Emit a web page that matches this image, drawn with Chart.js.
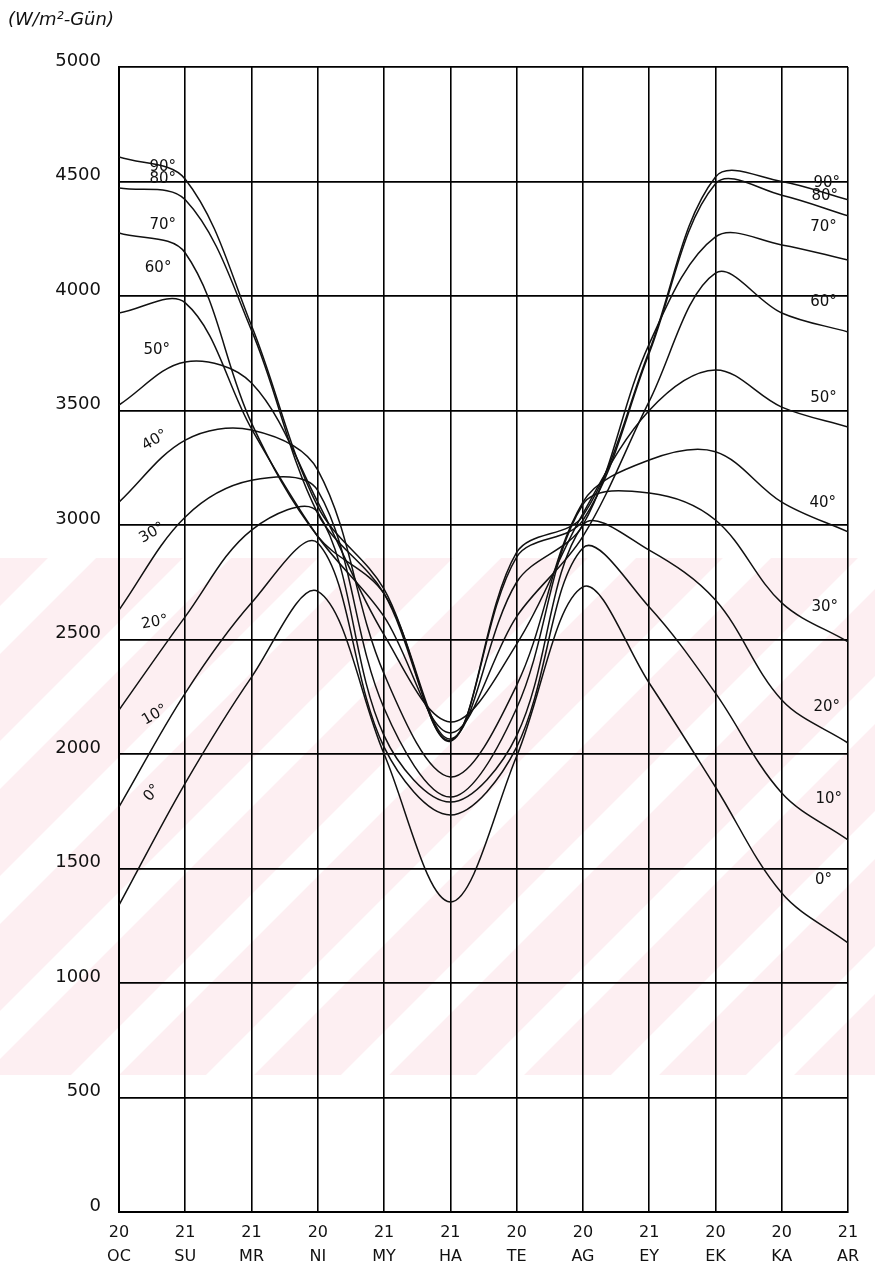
<!DOCTYPE html>
<html>
<head>
<meta charset="utf-8">
<script src="https://cdn.jsdelivr.net/npm/chart.js@4"></script>
<style>
  html, body { margin: 0; padding: 0; background: #fff; }
  #wrap { width: 875px; height: 1273px; position: relative; }
</style>
</head>
<body>
<div id="wrap"><canvas id="chart" width="875" height="1273"></canvas></div>
<script>
// month ticks along the bottom (day / month code)
const days = ['20', '21', '21', '20', '21', '21', '20', '20', '21', '20', '20', '21'];
const monthNames = ['OC', 'SU', 'MR', 'NI', 'MY', 'HA', 'TE', 'AG', 'EY', 'EK', 'KA', 'AR'];

// daily totals (W/m2-Gün), one value per month tick
const tilt0  = [1340, 1873, 2336, 2710, 2000, 1354, 1990, 2730, 2310, 1856, 1393, 1175];
const tilt10 = [1769, 2266, 2660, 2921, 2030, 1734, 2030, 2900, 2642, 2266, 1830, 1625];
const tilt20 = [2192, 2600, 2978, 3055, 2080, 1790, 2080, 3000, 2890, 2672, 2236, 2048];
const tilt30 = [2629, 3035, 3195, 3150, 2200, 1812, 2200, 3090, 3140, 3022, 2660, 2490];
const tilt40 = [3100, 3371, 3415, 3240, 2350, 1900, 2300, 3100, 3284, 3320, 3100, 2970];
const tilt50 = [3524, 3712, 3620, 3100, 2520, 2140, 2480, 3050, 3500, 3677, 3515, 3428];
const tilt60 = [3926, 3970, 3420, 2950, 2600, 2092, 2600, 2950, 3540, 4100, 3926, 3843];
const tilt70 = [4275, 4188, 3445, 2950, 2700, 2066, 2750, 3000, 3790, 4258, 4223, 4157];
const tilt80 = [4472, 4420, 3850, 3050, 2700, 2060, 2860, 3020, 3750, 4490, 4440, 4350];
const tilt90 = [4607, 4510, 3870, 3080, 2720, 2056, 2880, 3040, 3760, 4520, 4500, 4420];

const series = [
    { name: '0°', values: tilt0 },
    { name: '10°', values: tilt10 },
    { name: '20°', values: tilt20 },
    { name: '30°', values: tilt30 },
    { name: '40°', values: tilt40 },
    { name: '50°', values: tilt50 },
    { name: '60°', values: tilt60 },
    { name: '70°', values: tilt70 },
    { name: '80°', values: tilt80 },
    { name: '90°', values: tilt90 }
];

// curve labels written on the plot: month position, value, rotation (deg)
const curveLabels = [
    ['90°', 0.66, 4565, 0], ['80°', 0.66, 4510, 0], ['70°', 0.66, 4310, 0],
    ['60°', 0.59, 4120, 0], ['50°', 0.57, 3765, 0], ['40°', 0.54, 3370, -30],
    ['30°', 0.50, 2965, -30], ['20°', 0.54, 2575, -10], ['10°', 0.54, 2170, -30],
    ['0°', 0.50, 1830, -50],
    ['90°', 10.68, 4495, 0], ['80°', 10.65, 4435, 0], ['70°', 10.63, 4300, 0],
    ['60°', 10.63, 3975, 0], ['50°', 10.63, 3555, 0], ['40°', 10.62, 3095, 0],
    ['30°', 10.65, 2640, 0], ['20°', 10.68, 2205, 0], ['10°', 10.71, 1805, 0],
    ['0°', 10.63, 1450, 0]
];

const FONT = 'DejaVu Sans';

// faint pink watermark stripes behind the plot (scan artefact)
const watermarkPlugin = {
    id: 'watermark',
    beforeDraw(chart) {
        const ctx = chart.ctx;
        const top = 558, bottom = 1075;
        ctx.save();
        ctx.beginPath();
        ctx.rect(0, top, chart.width, bottom - top);
        ctx.clip();
        ctx.fillStyle = 'rgb(253, 239, 242)';
        ctx.fillRect(0, top, chart.width, bottom - top);
        ctx.strokeStyle = '#fff';
        ctx.lineWidth = 34;
        for (let x0 = -600; x0 < chart.width + 100; x0 += 135) {
            ctx.beginPath();
            ctx.moveTo(x0, bottom + 20);
            ctx.lineTo(x0 + (bottom - top) + 40, top - 20);
            ctx.stroke();
        }
        ctx.restore();
    }
};

const labelPlugin = {
    id: 'labels',
    afterDatasetsDraw(chart) {
        const ctx = chart.ctx;
        const xs = chart.scales.x, ys = chart.scales.y;
        ctx.save();
        ctx.fillStyle = '#111';
        ctx.font = '15px "' + FONT + '"';
        ctx.textAlign = 'center';
        ctx.textBaseline = 'middle';
        curveLabels.forEach(([t, p, v, rot]) => {
            ctx.save();
            ctx.translate(xs.getPixelForValue(p), ys.getPixelForValue(v));
            ctx.rotate(rot * Math.PI / 180);
            ctx.fillText(t, 0, 0);
            ctx.restore();
        });
        // unit text top left
        ctx.textAlign = 'left';
        ctx.font = 'italic 18px "' + FONT + '"';
        ctx.fillText('(W/m²-Gün)', 8, 20);
        ctx.restore();
    }
};

new Chart(document.getElementById('chart').getContext('2d'), {
    type: 'line',
    data: {
        datasets: series.map(s => ({
            label: s.name,
            data: s.values.map((v, i) => ({ x: i, y: v })),
            borderColor: '#111',
            borderWidth: 1.5,
            pointRadius: 0,
            tension: 0.35,
            fill: false
        }))
    },
    options: {
        responsive: false,
        animation: false,
        layout: { padding: { top: 67, right: 27, bottom: 0, left: 0 } },
        plugins: { legend: { display: false }, tooltip: { enabled: false } },
        scales: {
            x: {
                type: 'linear',
                min: 0,
                max: 11,
                afterFit: axis => { axis.height = 61; },
                border: { color: '#000', width: 2 },
                grid: { color: '#000', lineWidth: 1.6, drawTicks: false },
                ticks: {
                    stepSize: 1,
                    autoSkip: false,
                    maxRotation: 0,
                    padding: 9,
                    color: '#111',
                    font: { family: FONT, size: 16, lineHeight: 1.5 },
                    callback: v => [days[v], monthNames[v]]
                }
            },
            y: {
                min: 0,
                max: 5000,
                afterFit: axis => { axis.width = 119; },
                border: { color: '#000', width: 2 },
                grid: { color: '#000', lineWidth: 1.8, drawTicks: false },
                ticks: {
                    stepSize: 500,
                    padding: 18,
                    labelOffset: -6,
                    color: '#111',
                    font: { family: FONT, size: 18 },
                    callback: v => String(v)
                }
            }
        }
    },
    plugins: [watermarkPlugin, labelPlugin]
});
</script>
</body>
</html>
